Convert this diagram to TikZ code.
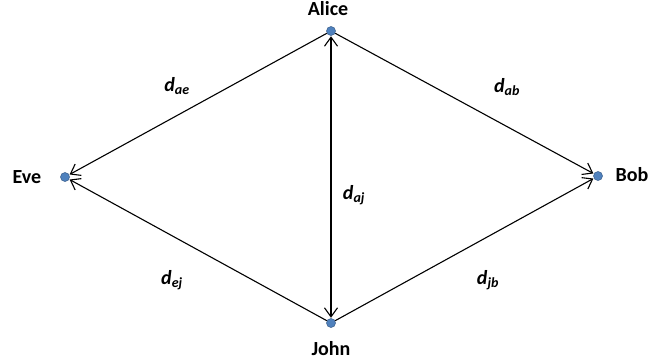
\documentclass[tikz,border=0pt]{standalone}
\usepackage{fontspec}
\setmainfont{Carlito}
\usetikzlibrary{arrows.meta}
\definecolor{dotblue}{RGB}{79,129,189}
\definecolor{dotedge}{RGB}{56,93,138}
\tikzset{
  x=1pt,y=-1pt,
  pt/.style={circle,fill=dotblue,draw=dotedge,line width=0.5pt,inner sep=0pt,minimum size=9pt},
  persontext/.style={font=\fontsize{20}{24}\selectfont\bfseries},
  lab/.style={font=\fontsize{20}{24}\selectfont\bfseries\itshape},
  tip/.tip={Straight Barb[length=9pt,width=13pt,line width=1.1pt]},
  link/.style={line width=1.1pt,-tip,shorten >=0.5pt},
  linkboth/.style={line width=1.1pt,tip-tip,shorten >=0.5pt,shorten <=0.5pt}
}
\newcommand{\dl}[1]{d\textsubscript{\fontsize{14}{14}\selectfont #1}}
\begin{document}
\begin{tikzpicture}
\useasboundingbox (0,0) rectangle (670,362);
\fill[white] (0,0) rectangle (670,362);
\node[pt] (alice) at (331,31) {};
\node[pt] (eve) at (65,177) {};
\node[pt] (bob) at (598,176) {};
\node[pt] (john) at (331,323) {};
\node[persontext] (alicet) at (328,9) {Alice};
\node[persontext] (evet) at (27,177) {Eve};
\node[persontext] (bobt) at (632,175) {Bob};
\node[persontext] (johnt) at (331,349) {John};
\draw[link] (alice) -- (bob);
\draw[link] (alice) -- (eve);
\draw[link] (john) -- (bob);
\draw[link] (john) -- (eve);
\draw[linkboth] (alice) -- (john);
\node[lab] (dae) at (177,86) {\dl{ae}};
\node[lab] (dab) at (507,87) {\dl{ab}};
\node[lab] (daj) at (354,195) {\dl{aj}};
\node[lab] (dej) at (172,280) {\dl{ej}};
\node[lab] (djb) at (488,280) {\dl{jb}};
\end{tikzpicture}
\end{document}
